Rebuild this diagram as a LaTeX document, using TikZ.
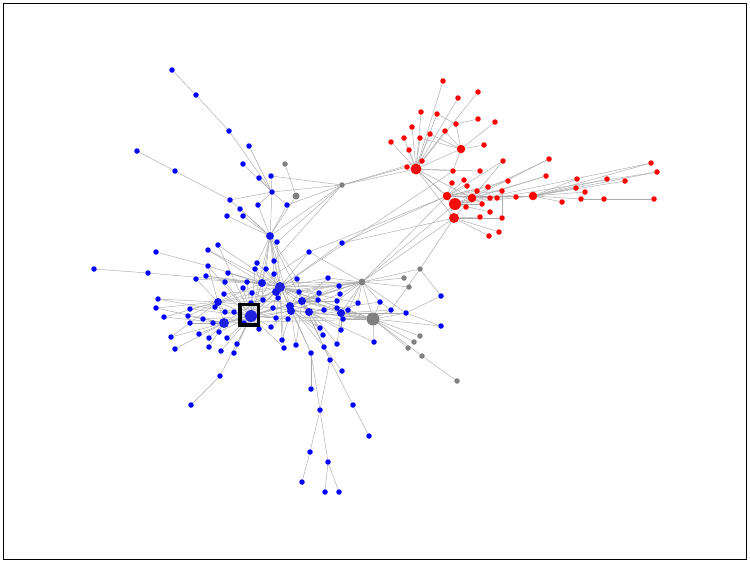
\documentclass[tikz,border=0pt]{standalone}
\pgfdeclarelayer{edges}
\pgfsetlayers{edges,main}
\begin{document}
\begin{tikzpicture}[x=1pt,y=-1pt,
  dot/.style={circle,inner sep=0pt,draw=none},
  bn/.style={dot,fill=blue,minimum size=5.5pt},
  bnm/.style={dot,fill=blue!85!gray,minimum size=8pt},
  bnl/.style={dot,fill=blue!75!gray,minimum size=11pt},
  rn/.style={dot,fill=red,minimum size=5.5pt},
  rnm/.style={dot,fill=red,minimum size=8.5pt},
  rnl/.style={dot,fill=red!90!gray,minimum size=11pt},
  gn/.style={dot,fill=gray,minimum size=5.5pt},
  gnm/.style={dot,fill=gray,minimum size=7pt},
  gnl/.style={dot,fill=gray,minimum size=13pt},
  edge/.style={draw=black!33,line width=0.45pt},
  frame/.style={draw=black,line width=0.6pt},
  mark box/.style={draw=black,line width=3.3pt}]
\useasboundingbox (0,0) rectangle (750,563);
\draw[frame] (3,3) rectangle (746,559);
% blue small
\foreach \n/\x/\y in {t1/172/70,t2/196/95,t3/229/131,t4/249/146,t5/137/151,t6/175/171,t7/243/164,t8/259/178,t9/271/176,t10/272/192,t11/230/200,t12/240/209,t13/227/216,t14/243/216,t15/258/205,t16/287/205,
a1/218/245,a2/208/250,a3/156/252,a4/94/269,a5/148/273,a6/208/266,a7/206/276,a8/196/279,a9/228/273,a10/225/282,a11/257/263,a12/255/269,a13/247/282,a14/243/288,a15/252/293,a16/224/294,a18/215/307,a19/158/299,a20/156/308,a21/190/309,a22/188/316,a23/164/317,a24/203/319,a25/190/323,a26/213/323,a27/225/312,a28/234/312,a29/251/303,a30/171/337,a31/199/334,a32/209/338,a33/219/332,a34/227/338,a35/237/344,a36/209/347,a37/175/349,a38/221/351,a39/234/353,a40/220/376,a41/191/405,a42/244/323,
c1/277/242,c2/342/243,c3/309/252,c4/274/261,c5/266/269,c6/274/274,c7/297/279,c8/328/278,c12/299/292,c13/339/286,c14/319/293,c15/340/294,c16/278/298,c18/318/300,c19/337/301,c20/358/303,c21/380/302,c22/263/300,c24/273/308,c26/324/310,c27/337/308,c28/348/310,c31/391/310,c32/406/313,c33/276/318,c34/288/319,c35/343/319,c36/259/329,c37/271/327,c38/320/328,c39/341/330,c40/323/335,c41/282/340,c42/296/345,c43/284/348,c44/324/347,c45/337/344,c46/374/342,c47/311/353,c48/330/360,c49/441/296,c50/441/326,c51/342/371,
d1/311/389,d2/320/410,d3/353/405,d4/369/436,d5/310/452,d6/328/462,d7/302/482,d8/325/492,d9/339/492}
  \node[bn] (\n) at (\x,\y) {};
\foreach \n/\x/\y in {B3/270/236,a17/218/302,c9/262/283,c11/276/292,c17/302/301,c23/290/306,c25/291/311,c30/309/312,c29/341/313}
  \node[bnm] (\n) at (\x,\y) {};
\node[bnl,minimum size=12pt] (B1) at (251,316) {};
\node[bnl,minimum size=10pt] (B2) at (224,323) {};
\node[bnl,minimum size=10pt] (c10) at (280,287) {};
% gray
\foreach \n/\x/\y in {g1/285/164,g3/342/185,g4/404/278,g5/409/287,g6/420/269,g7/420/336,g8/414/342,g9/408/348,g10/422/356,g11/457/381}
  \node[gn] (\n) at (\x,\y) {};
\node[gnm] (g2) at (296,196) {};
\node[gnm] (G1) at (362,282) {};
\node[gnl] (G2) at (373,319) {};
% red
\foreach \n/\x/\y in {r1/443/81,r2/458/98,r3/478/92,r4/421/112,r5/437/114,r6/478/119,r7/495/122,r8/456/124,r9/412/127,r10/430/134,r11/445/131,r12/391/142,r13/404/138,r14/420/138,r15/409/150,r17/484/145,r18/422/161,r19/407/167,r21/453/171,r22/480/171,r23/503/161,r24/549/159,r25/546/176,r26/452/183,r27/464/180,r28/467/186,r29/477/191,r30/488/187,r31/508/181,r32/502/191,r33/490/198,r34/497/198,r35/516/197,r36/466/207,r37/482/204,r38/490/212,r39/480/217,r40/502/218,r41/499/232,r42/489/236,r43/651/163,r44/657/172,r45/577/179,r46/607/179,r47/625/181,r48/576/188,r49/585/192,r50/562/202,r51/581/199,r52/604/199,r53/654/199}
  \node[rn] (\n) at (\x,\y) {};
\foreach \n/\x/\y in {r16/461/149,R2/447/196,R7/472/198,R5/533/196}
  \node[rnm] (\n) at (\x,\y) {};
\node[rnl] (R1) at (416,169) {};
\node[rnl,minimum size=12pt] (R3) at (455,204) {};
\node[rnl,minimum size=10pt] (R4) at (454,218) {};
% marker square
\draw[mark box] (240,304.5) rectangle (258.5,325);
% edges
\begin{pgfonlayer}{edges}
\foreach \a/\b in {t1/t2,t2/t3,t3/t10,t4/t10,t5/t6,t6/t11,t11/t10,t7/t10,t8/t10,t9/t10,t9/g3,t10/g3,t10/B3,t11/B3,t12/B3,t13/B3,t14/B3,t15/B3,t16/B3,t15/t10,t16/t10,g1/g2,g2/B3,g3/B3,g3/t16,g3/c1,g3/R1,g3/r19,g3/r18,g3/c4,
B3/c1,B3/c4,B3/c5,B3/c9,B3/c10,B3/c11,B3/a11,B3/c17,B3/B1,B3/c23,B3/c7,
G1/g4,G1/g5,G1/g6,G1/R2,G1/R3,G1/R4,G1/c13,G1/c15,G1/c12,G1/c10,G1/c9,G1/c17,G1/c23,G1/B1,G1/c20,G1/c21,G1/c28,G1/c29,G1/G2,G1/c8,G1/c19,G1/c32,G1/a17,G1/c11,G1/c3,
g6/c49,g6/c31,g6/R4,c32/c49,c32/c50,c21/c31,
G2/g7,G2/g8,G2/g9,G2/g10,g10/g11,G2/c29,G2/c25,G2/B1,G2/c17,G2/c30,G2/c10,G2/c35,G2/c28,G2/c32,G2/c21,G2/a17,G2/B2,G2/c23,
R2/c3,R2/c2,R4/c2,c10/r21,
r1/R1,r2/R1,r3/R1,r4/R1,r5/R1,r9/R1,r10/R1,r11/R1,r12/R1,r13/R1,r14/R1,r15/R1,r19/R1,r18/R1,r16/R1,r5/r8,r6/r8,r8/r16,r11/r16,r10/r16,r14/r16,r7/r16,r17/r16,r16/r21,R1/r21,R1/r22,R1/R2,R1/R3,R1/R7,R1/R4,r23/R2,r23/R7,
R2/r26,R2/r27,R2/r28,R2/r29,R2/r30,R2/r31,R2/r32,R2/R7,R2/r33,R2/r34,R2/r35,R2/R5,R2/R4,R3/R5,R3/R7,R3/r36,R3/r37,R3/r38,R4/r39,R4/r40,R4/r41,R4/r42,R4/R7,r24/R7,r25/R7,r24/R3,r25/R3,
r43/R5,r44/R5,r45/R5,r46/R5,r47/R5,r48/R5,r49/R5,r50/R5,r51/R5,r49/r51,r52/r51,r52/r53,r43/R3,r44/R3,R5/R7,r32/r40,
a1/c10,a1/B1,a2/c9,a2/c10,a3/a6,a4/a5,a5/c9,a6/c9,a6/B1,a6/a17,a7/c9,a7/c10,a8/c9,a8/a17,a9/c9,a9/c10,a10/c9,a10/B1,a11/c10,a12/B1,a12/c9,a13/B1,a13/c10,a14/B1,a15/B1,a15/c23,a16/B1,a16/c10,
a17/c9,a17/c10,a17/c17,a17/B1,a17/B2,a18/B1,a18/a17,a19/a17,a19/B1,a20/a17,a20/B2,a21/a17,a21/B1,a22/B2,a22/a17,a23/a17,a23/B2,a24/B2,a24/B1,a25/B2,a26/B2,a26/B1,
B2/B1,B2/c10,B2/c17,B2/c23,B2/c25,a27/B1,a27/a17,a28/B1,a29/B1,a29/c10,a30/B2,a30/a17,a31/B2,a32/B2,a33/B1,a33/B2,a34/B1,a35/B1,a36/B2,a37/B2,a38/B1,a39/B1,a40/B1,a41/a40,a42/B1,
c1/c10,c2/c10,c3/c10,c3/c9,c4/c10,c5/c10,c5/B1,c6/c10,c6/B1,c7/c10,c7/c17,c8/c10,c8/c17,c12/c10,c12/c23,c13/c10,c13/c23,c15/c25,c14/c17,c14/c10,c16/c10,c16/B1,c18/c10,c18/c17,c19/c17,c20/c10,c20/c29,c21/c30,c22/B1,c22/c9,c24/B1,c24/c10,c26/c30,c26/c23,c27/c29,c27/c17,c28/c29,c28/c10,c31/c29,c31/G2,c32/c29,c33/B1,c33/c10,c34/c25,c34/B1,c35/c29,c36/B1,c37/B1,c37/c25,c38/c30,c38/c25,c38/c23,c39/c29,c39/c30,c40/c30,c40/c25,c41/c25,c41/c10,c42/c25,c42/c17,c43/c10,c43/B1,c44/c17,c44/c23,c45/c29,c45/c17,c46/G2,c46/c30,c47/c10,c47/c23,c48/c17,c48/c44,c50/G2,c51/c44,
c9/c10,c10/c17,c10/c23,c10/B1,c17/c23,c25/c30,c17/c30,c29/c17,c11/B1,c11/c10,c9/B1,c25/B1,c30/c10,c29/c10,
c47/d1,c47/d2,c48/d2,c48/d3,d3/d4,d2/d5,d5/d7,d2/d6,d6/d8,d6/d9}
  \draw[edge] (\a) -- (\b);
\end{pgfonlayer}
\end{tikzpicture}
\end{document}
